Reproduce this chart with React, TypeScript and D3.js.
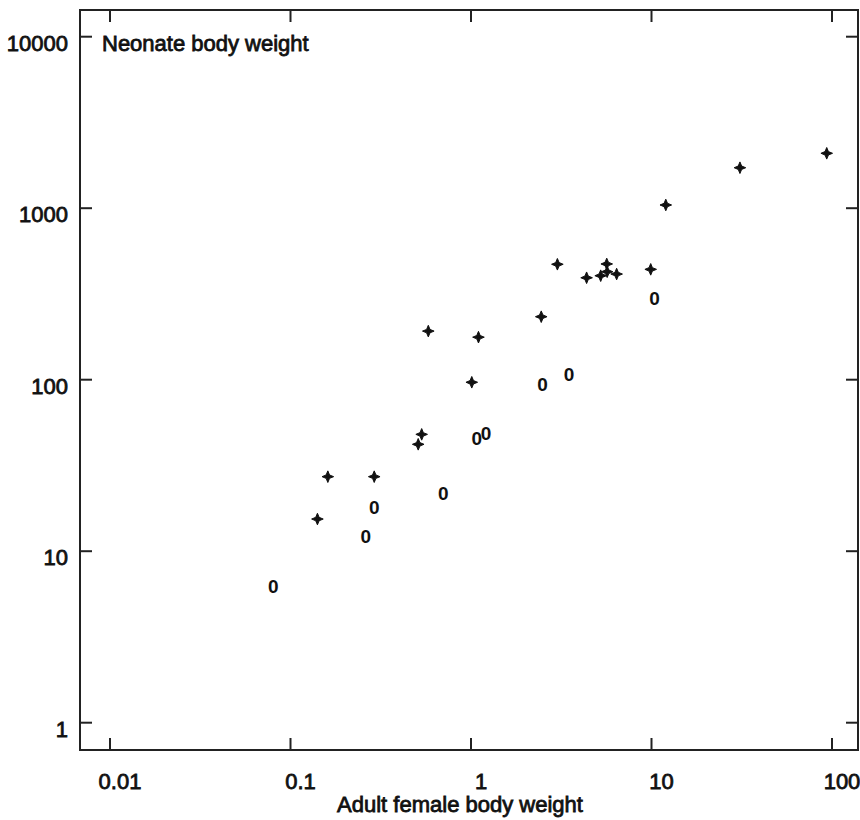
import React from "react";
import * as d3 from "d3";

// Data (adult female body weight vs neonate body weight)
const plusX = [0.141, 0.161, 0.291, 0.51, 0.533, 0.58, 1.01, 1.1, 2.45, 3.01, 4.37, 5.23, 5.65, 5.68, 6.41, 9.9, 12.0, 30.9, 93.5];
const plusY = [15.4, 27.2, 27.2, 42.0, 48.0, 192, 96.6, 177, 233, 471, 393, 404, 473, 426, 413, 440, 1044, 1722, 2090];

const zeroX = [0.0803, 0.261, 0.291, 0.702, 1.075, 1.21, 2.49, 3.49, 10.4];
const zeroY = [6.29, 12.3, 18.2, 21.8, 45.9, 48.7, 94.4, 107.5, 298];

const xTicks = [0.01, 0.1, 1, 10, 100];
const xTickLabels = ["0.01", "0.1", "1", "10", "100"];
const yTicks = [1, 10, 100, 1000, 10000];
const yTickLabels = ["1", "10", "100", "1000", "10000"];

const titleText = "Neonate body weight";
const xTitleText = "Adult female body weight";

const W = 860;
const H = 820;
const frame = { left: 80, right: 858, top: 10, bottom: 750 };
const FONT = "'Liberation Sans', Arial, Helvetica, sans-serif";
const INK = "#111";

const x = d3.scaleLog().domain([0.01, 100]).range([110, 832]);
const y = d3.scaleLog().domain([1, 10000]).range([722.7, 36.7]);

const star = "M0,-5.8 L1.7,-1.7 L5.8,0 L1.7,1.7 L0,5.8 L-1.7,1.7 L-5.8,0 L-1.7,-1.7 Z";

export default function App() {
  const tickLen = 12;
  return (
    <svg
      width={W}
      height={H}
      style={{ position: "absolute", left: 0, top: 0, background: "#fff" }}
      fontFamily={FONT}
    >
      <rect x={0} y={0} width={W} height={H} fill="#fff" />
      {/* frame */}
      <rect
        x={frame.left}
        y={frame.top}
        width={frame.right - frame.left}
        height={frame.bottom - frame.top}
        fill="none"
        stroke="#222"
        strokeWidth={2}
      />
      {/* x ticks, bottom and top */}
      {xTicks.map((t, i) => (
        <g key={"xt" + i}>
          <line x1={x(t)} x2={x(t)} y1={frame.bottom} y2={frame.bottom - tickLen} stroke="#222" strokeWidth={2} />
          <line x1={x(t)} x2={x(t)} y1={frame.top} y2={frame.top + tickLen} stroke="#222" strokeWidth={2} />
          <text
            x={x(t) + 10}
            y={789}
            textAnchor="middle"
            fontSize={22}
            fill={INK}
            stroke={INK}
            strokeWidth={0.8}
          >
            {xTickLabels[i]}
          </text>
        </g>
      ))}
      {/* y ticks, left and right */}
      {yTicks.map((t, i) => (
        <g key={"yt" + i}>
          <line x1={frame.left} x2={frame.left + tickLen} y1={y(t)} y2={y(t)} stroke="#222" strokeWidth={2} />
          <line x1={frame.right} x2={frame.right - tickLen} y1={y(t)} y2={y(t)} stroke="#222" strokeWidth={2} />
          <text
            x={68}
            y={y(t) + 14}
            textAnchor="end"
            fontSize={22}
            fill={INK}
            stroke={INK}
            strokeWidth={0.8}
          >
            {yTickLabels[i]}
          </text>
        </g>
      ))}
      {/* titles */}
      <text x={102} y={51} fontSize={22} fill={INK} stroke={INK} strokeWidth={0.8}>
        {titleText}
      </text>
      <text x={460} y={812} textAnchor="middle" fontSize={22} fill={INK} stroke={INK} strokeWidth={0.8}>
        {xTitleText}
      </text>
      {/* plus markers */}
      {plusX.map((v, i) => (
        <path
          key={"p" + i}
          d={star}
          transform={`translate(${x(v)},${y(plusY[i])})`}
          fill={INK}
          stroke={INK}
          strokeWidth={1}
          strokeLinejoin="round"
        />
      ))}
      {/* zero markers */}
      {zeroX.map((v, i) => (
        <text
          key={"z" + i}
          x={x(v)}
          y={y(zeroY[i]) + 7}
          textAnchor="middle"
          fontSize={19}
          fontWeight="bold"
          fill={INK}
        >
          0
        </text>
      ))}
    </svg>
  );
}
